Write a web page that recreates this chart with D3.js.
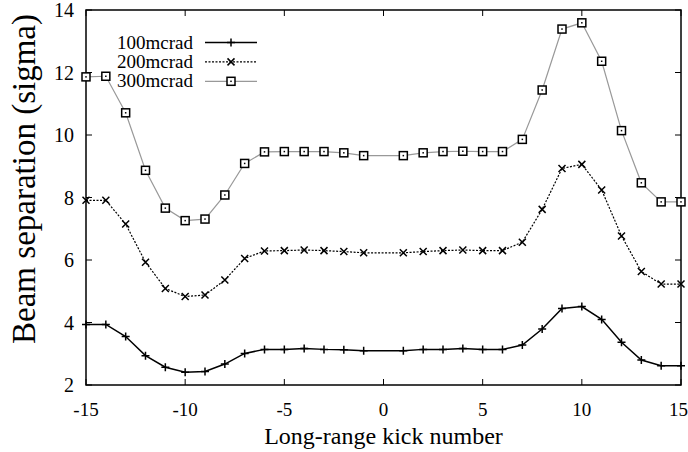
<!DOCTYPE html>
<html>
<head>
<meta charset="utf-8">
<script src="https://cdn.jsdelivr.net/npm/d3@7"></script>
<style>
  body { margin: 0; background: #fff; }
</style>
</head>
<body>
<svg id="chart" width="688" height="452"></svg>
<script>
// kick numbers (0 has no point)
const kicks = [-15, -14, -13, -12, -11, -10, -9, -8, -7, -6, -5, -4, -3, -2, -1,
               1, 2, 3, 4, 5, 6, 7, 8, 9, 10, 11, 12, 13, 14, 15];

const sep100 = [3.94, 3.94, 3.55, 2.94, 2.57, 2.41, 2.43, 2.67, 3.01, 3.14, 3.14, 3.17, 3.14, 3.13, 3.10,
                3.10, 3.14, 3.14, 3.17, 3.14, 3.14, 3.28, 3.79, 4.45, 4.51, 4.10, 3.37, 2.80, 2.62, 2.62];
const sep200 = [7.91, 7.91, 7.15, 5.93, 5.09, 4.83, 4.88, 5.36, 6.05, 6.29, 6.30, 6.32, 6.30, 6.27, 6.23,
                6.23, 6.27, 6.30, 6.32, 6.30, 6.30, 6.57, 7.62, 8.93, 9.06, 8.24, 6.77, 5.63, 5.23, 5.23];
const sep300 = [11.86, 11.88, 10.71, 8.87, 7.66, 7.26, 7.31, 8.08, 9.09, 9.46, 9.47, 9.47, 9.47, 9.43, 9.34,
                9.34, 9.43, 9.47, 9.48, 9.47, 9.47, 9.86, 11.44, 13.39, 13.59, 12.36, 10.14, 8.47, 7.86, 7.86];

const seriesNames = ['100mcrad', '200mcrad', '300mcrad'];
const xTicks = [-15, -10, -5, 0, 5, 10, 15];
const yTicks = [2, 4, 6, 8, 10, 12, 14];

const FONT = "font-family: 'Liberation Serif', 'Times New Roman', serif;";
const svg = d3.select('#chart');
const plotL = 86, plotR = 681, plotT = 10, plotB = 385;

const x = d3.scaleLinear().domain([-15, 15]).range([plotL, plotR]);
const y = d3.scaleLinear().domain([2, 14]).range([plotB, plotT]);

const g = svg.append('g');

function label(sel, size) {
  return sel.append('text').attr('style', FONT + ` font-size: ${size}px;`).attr('fill', '#000');
}

// ticks on all four sides, pointing inward
const tickLen = 6;
const tickStyle = s => s.attr('stroke', '#000').attr('stroke-width', 1);
xTicks.forEach(t => {
  g.append('line').attr('x1', x(t)).attr('x2', x(t)).attr('y1', plotB).attr('y2', plotB - tickLen).call(tickStyle);
  g.append('line').attr('x1', x(t)).attr('x2', x(t)).attr('y1', plotT).attr('y2', plotT + tickLen).call(tickStyle);
  const last = t === xTicks[xTicks.length - 1];
  label(g, 19).attr('x', last ? 688 : x(t)).attr('y', plotB + 31)
    .attr('text-anchor', last ? 'end' : 'middle').text(t);
});
yTicks.forEach(t => {
  g.append('line').attr('x1', plotL).attr('x2', plotL + tickLen).attr('y1', y(t)).attr('y2', y(t)).call(tickStyle);
  g.append('line').attr('x1', plotR).attr('x2', plotR - tickLen).attr('y1', y(t)).attr('y2', y(t)).call(tickStyle);
  label(g, 20).attr('x', plotL - 12).attr('y', y(t) + 7)
    .attr('text-anchor', 'end').text(t);
});

g.append('rect')
  .attr('x', plotL).attr('y', plotT)
  .attr('width', plotR - plotL).attr('height', plotB - plotT)
  .attr('fill', 'none').attr('stroke', '#000').attr('stroke-width', 1.5);

// axis titles
label(svg, 24).attr('x', (plotL + plotR) / 2).attr('y', 444)
  .attr('text-anchor', 'middle').text('Long-range kick number');
label(svg, 33)
  .attr('transform', `translate(35, 179) rotate(-90)`)
  .attr('text-anchor', 'middle').text('Beam separation (sigma)');

const line = d3.line().x(d => x(d[0])).y(d => y(d[1]));

const styles = [
  { color: '#000', width: 1.5, dash: null, marker: 'plus' },
  { color: '#000', width: 1.2, dash: '2,1.5', marker: 'cross' },
  { color: '#999', width: 1.2, dash: null, marker: 'square' }
];
const values = [sep100, sep200, sep300];

function drawMarker(sel, type, cx, cy) {
  const m = sel.append('g').attr('transform', `translate(${cx},${cy})`);
  if (type === 'plus') {
    m.append('path').attr('d', 'M-4,0H4M0,-4V4').attr('stroke', '#000').attr('stroke-width', 1.5);
  } else if (type === 'cross') {
    m.append('path').attr('d', 'M-3.5,-3.5L3.5,3.5M-3.5,3.5L3.5,-3.5').attr('stroke', '#000').attr('stroke-width', 1.5);
  } else {
    m.append('rect').attr('x', -4).attr('y', -4).attr('width', 8).attr('height', 8)
      .attr('fill', '#fff').attr('stroke', '#000').attr('stroke-width', 1.5);
    m.append('rect').attr('x', -0.75).attr('y', -0.75).attr('width', 1.5).attr('height', 1.5).attr('fill', '#000');
  }
}

values.forEach((vals, i) => {
  const st = styles[i];
  const pts = kicks.map((k, j) => [k, vals[j]]);
  g.append('path').datum(pts)
    .attr('d', line)
    .attr('fill', 'none')
    .attr('stroke', st.color)
    .attr('stroke-width', st.width)
    .attr('stroke-dasharray', st.dash);
  pts.forEach(p => drawMarker(g, st.marker, x(p[0]), y(p[1])));

  // legend
  const ly = 42.5 + i * 19.4;
  label(g, 19).attr('x', 193).attr('y', ly + 6)
    .attr('text-anchor', 'end').text(seriesNames[i]);
  g.append('line').attr('x1', 205).attr('x2', 257).attr('y1', ly).attr('y2', ly)
    .attr('stroke', st.color).attr('stroke-width', st.width).attr('stroke-dasharray', st.dash);
  drawMarker(g, st.marker, 231, ly);
});
</script>
</body>
</html>
